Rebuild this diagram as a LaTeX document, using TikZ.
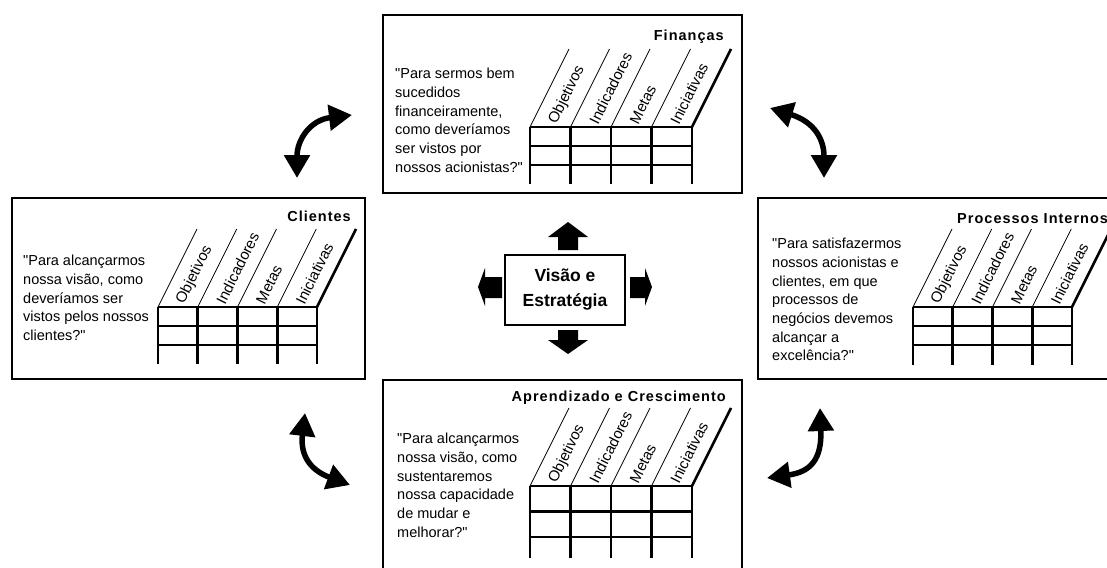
\documentclass[tikz,border=0pt]{standalone}
\usepackage{fontspec}
\setmainfont{Liberation Sans}
\newfontfamily\ttlfam[LetterSpace=7]{Liberation Sans}
\newfontfamily\plainq{Liberation Sans}
\usetikzlibrary{arrows.meta}
\newcommand\qfont{\fontsize{14.5pt}{18.7pt}\selectfont}
\newcommand\lblfont{\fontsize{15pt}{17pt}\selectfont}
\newcommand\ttlfont{\ttlfam\bfseries\fontsize{14.5pt}{16pt}\selectfont}
\newcommand\visfont{\bfseries\fontsize{17.5pt}{25pt}\selectfont}
\newcommand\qq{{\plainq\symbol{34}}}
% #1 name, #2 x, #3 y, #4 column width, #5 row height, #6 bottom extension
\newcommand\bsctable[6]{%
  \begin{scope}[shift={(#2,#3)}]
    \foreach \r in {0,1,2} \draw[tbl] (0,{\r*#5}) -- ({4*#4},{\r*#5});
    \foreach \c in {0,...,4} \draw[tbl] ({\c*#4},0) -- ({\c*#4},{2*#5+#6});
    \foreach \c in {0,...,3} \draw[slant] ({\c*#4},0) -- ++(39,-78);
    \draw[slantthick] ({4*#4},0) -- ++(39,-78);
    \foreach \t [count=\i from 0] in {Objetivos,Indicadores,Metas,Iniciativas}
      \node[lbl] (#1l\i) at ({(\i+0.5)*#4+2.5},-4) {\t};
  \end{scope}}
\begin{document}
\begin{tikzpicture}[x=1pt,y=-1pt,
  panel/.style={draw,line width=2pt},
  tbl/.style={line width=2.6pt,line cap=square},
  slant/.style={line width=0.8pt},
  slantthick/.style={line width=2.6pt},
  lbl/.style={font=\lblfont,inner sep=0pt,anchor=west,rotate=63.4},
  ques/.style={font=\qfont,align=left,anchor=north west,inner sep=0pt},
  ttl/.style={font=\ttlfont,inner sep=0pt},
  cyc/.style={line width=5.5pt,{Triangle[length=23pt,width=25pt]}-{Triangle[length=23pt,width=25pt]}},
  blk/.style={fill=black}]
\useasboundingbox (0,0) rectangle (1107,567);
\clip (0,0) rectangle (1107,567);

% panels
\draw[panel] (383,15) rectangle (742,193);
\draw[panel] (12,198) rectangle (365,379);
\draw[panel] (758,198) rectangle (1125,379);
\draw[panel] (383,380) rectangle (742,600);

% tables
\bsctable{f}{530}{127}{40.5}{19}{19}
\bsctable{c}{158}{307}{39.75}{19}{19}
\bsctable{p}{913}{307}{39.75}{19}{20}
\bsctable{a}{530}{486}{40.5}{25.5}{21}

% titles
\node[ttl,anchor=base east] (ft) at (724,40.5) {Finanças};
\node[ttl,anchor=base east] (ct) at (351,221.7) {Clientes};
\node[ttl,anchor=base west] (pt) at (957,223) {Processos Internos};
\node[ttl,anchor=base east] (at) at (726,401) {Aprendizado e Crescimento};

% questions
\node[ques] (fq) at (395,68) {\qq Para sermos bem\\sucedidos\\financeiramente,\\como deveríamos\\ser vistos por\\nossos acionistas?\qq};
\node[ques] (cq) at (23,255) {\qq Para alcançarmos\\nossa visão, como\\deveríamos ser\\vistos pelos nossos\\clientes?\qq};
\node[ques] (pq) at (772,238) {\qq Para satisfazermos\\nossos acionistas e\\clientes, em que\\processos de\\negócios devemos\\alcançar a\\excelência?\qq};
\node[ques] (aq) at (397,433) {\qq Para alcançarmos\\nossa visão, como\\sustentaremos\\nossa capacidade\\de mudar e\\melhorar?\qq};

% centre
\node[draw,line width=1.2pt,minimum width=120pt,minimum height=70pt,inner sep=0pt,align=center,font=\visfont] (vis) at (565,290) {Visão e\\Estratégia};
\fill[blk] (558,250) -- (558,237) -- (548,237) -- (568,222) -- (588,237) -- (578,237) -- (578,250) -- cycle;
\fill[blk] (558,330) -- (558,340) -- (548,340) -- (568,354) -- (588,340) -- (578,340) -- (578,330) -- cycle;
\fill[blk] (502,277) -- (485,277) -- (485,268) -- (478,287) -- (485,306) -- (485,298) -- (502,298) -- cycle;
\fill[blk] (630,277) -- (645,277) -- (645,268) -- (652,287) -- (645,306) -- (645,298) -- (630,298) -- cycle;

% cycle arrows
\coordinate (tla) at (352,115); \coordinate (tlb) at (297,178);
\coordinate (tra) at (770,108); \coordinate (trb) at (824,178);
\coordinate (bla) at (305,413); \coordinate (blb) at (350,485);
\coordinate (bra) at (820,408); \coordinate (brb) at (767,478);
\draw[cyc] (tla) .. controls (310,120) and (297,140) .. (tlb);
\draw[cyc] (tra) .. controls (815,122) and (824,140) .. (trb);
\draw[cyc] (bla) .. controls (300,455) and (310,470) .. (blb);
\draw[cyc] (bra) .. controls (822,460) and (810,472) .. (brb);
\end{tikzpicture}
\end{document}
